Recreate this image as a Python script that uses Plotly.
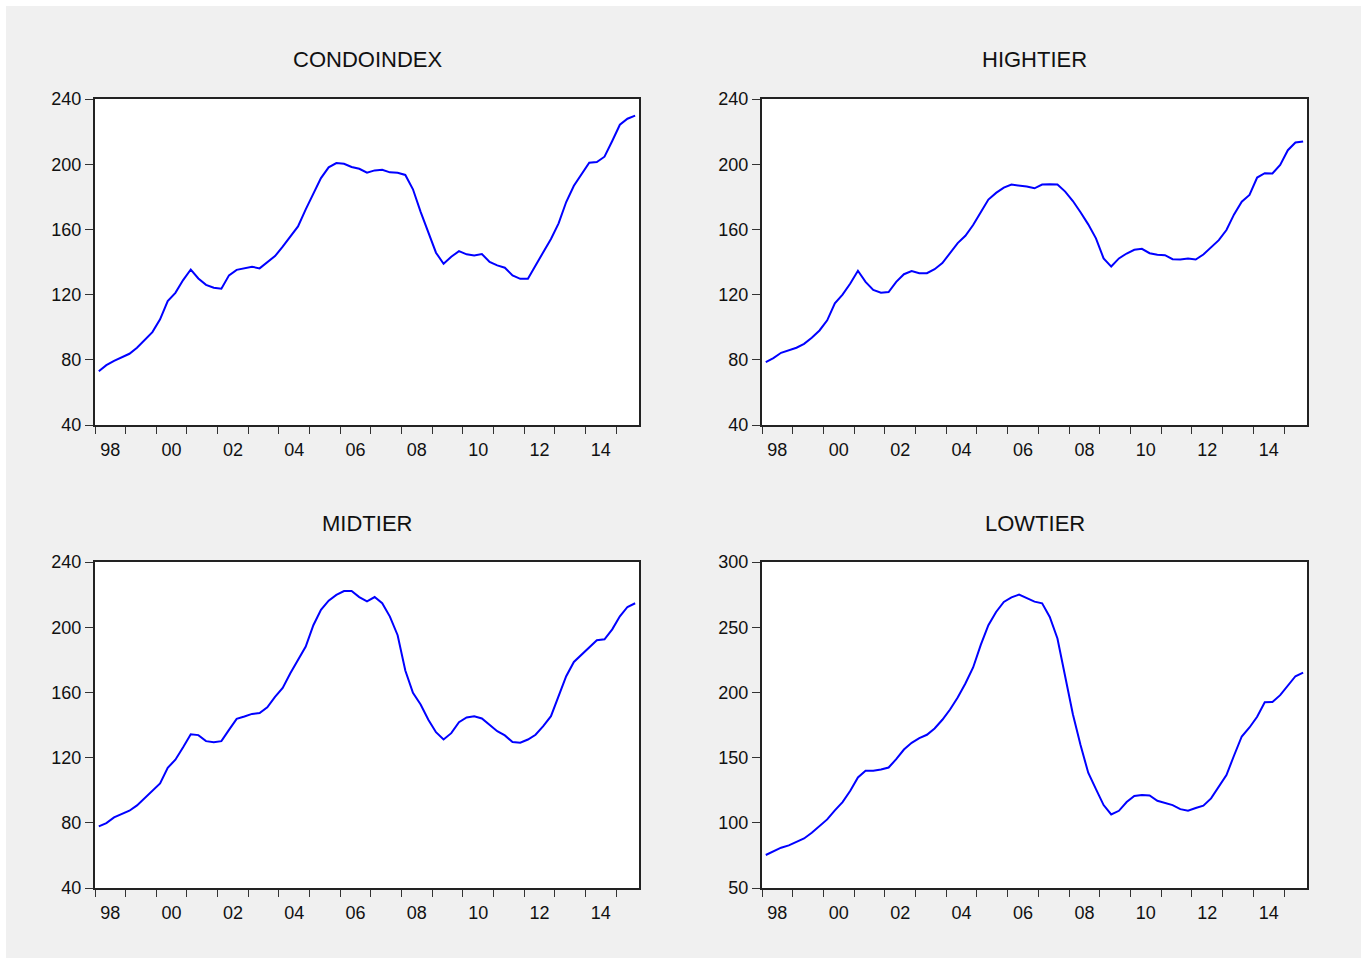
import pandas as pd
import plotly.graph_objects as go

# Quarterly observations, 1998Q1 - 2015Q3
quarters = pd.period_range("1998Q1", "2015Q3", freq="Q")

condoindex = [73.0, 76.7, 79.4, 81.8, 83.7, 87.4, 92.5, 97.0, 104.8, 116.0, 121.1, 128.9,
              135.4, 129.9, 126.0, 124.2, 123.6, 131.8, 135.2, 136.3, 137.1, 136.1, 140.0, 143.6,
              149.4, 155.5, 161.8, 172.3, 182.1, 191.5, 198.1, 200.7, 200.3, 198.3, 197.2, 194.8,
              196.2, 196.6, 195.0, 194.8, 193.4, 184.6, 170.8, 158.6, 145.7, 138.9, 143.2, 146.7,
              144.7, 144.0, 144.9, 140.0, 137.9, 136.5, 131.8, 129.7, 129.7, 137.9, 145.9, 154.1,
              163.7, 176.8, 186.8, 193.8, 200.9, 201.3, 204.6, 214.2, 224.2, 227.9, 229.8]

hightier = [78.6, 81.0, 84.3, 85.7, 87.4, 89.8, 93.5, 98.0, 104.2, 114.7, 120.0, 126.8,
            134.6, 127.8, 122.9, 121.2, 121.6, 127.8, 132.5, 134.4, 133.1, 133.1, 135.6, 139.3,
            145.8, 151.6, 156.1, 162.7, 170.5, 178.3, 182.4, 185.6, 187.5, 186.9, 186.3, 185.2,
            187.5, 187.7, 187.5, 183.2, 177.4, 170.5, 163.1, 154.5, 142.2, 137.2, 142.2, 145.2,
            147.5, 148.1, 145.4, 144.4, 144.2, 141.7, 141.5, 142.2, 141.5, 144.6, 148.7, 153.4,
            159.6, 169.2, 177.0, 181.1, 191.8, 194.5, 194.3, 199.6, 208.6, 213.3, 213.9]

midtier = [77.8, 79.8, 83.3, 85.6, 87.4, 90.7, 95.2, 99.1, 104.2, 113.8, 118.7, 126.3,
           134.3, 133.8, 130.1, 129.5, 130.1, 137.0, 143.8, 145.2, 146.8, 147.3, 150.9, 157.3,
           162.8, 171.8, 180.1, 188.1, 201.2, 210.6, 216.3, 219.8, 222.2, 222.2, 218.5, 215.9,
           218.5, 214.7, 206.5, 195.1, 173.4, 159.7, 152.6, 143.2, 135.6, 131.1, 135.0, 141.7,
           144.6, 145.4, 144.0, 139.9, 136.2, 133.6, 129.5, 129.1, 131.1, 134.0, 139.3, 145.4,
           157.1, 169.9, 178.7, 183.2, 188.1, 192.0, 192.6, 198.7, 206.7, 212.4, 214.7]

lowtier = [75.3, 77.8, 80.9, 82.7, 85.5, 88.0, 92.4, 97.5, 102.6, 109.5, 115.9, 124.6,
           134.8, 139.9, 139.9, 140.9, 142.4, 148.8, 156.2, 161.3, 164.9, 167.5, 172.3, 179.0,
           186.9, 196.1, 206.8, 219.1, 236.4, 251.5, 261.7, 269.4, 272.9, 275.0, 272.2, 269.6,
           268.3, 257.9, 241.3, 212.7, 183.3, 159.6, 138.4, 125.8, 113.6, 106.4, 109.2, 115.9,
           120.5, 121.3, 121.0, 116.9, 115.1, 113.6, 110.5, 109.2, 111.3, 113.1, 118.7, 127.6,
           136.6, 151.6, 166.2, 173.1, 181.3, 192.5, 192.7, 197.9, 205.0, 212.4, 215.2]

titles = ["CONDOINDEX", "HIGHTIER", "MIDTIER", "LOWTIER"]
series = [condoindex, hightier, midtier, lowtier]
y_ticks = [[40, 80, 120, 160, 200, 240],
           [40, 80, 120, 160, 200, 240],
           [40, 80, 120, 160, 200, 240],
           [50, 100, 150, 200, 250, 300]]

# each observation sits at the middle of its quarter
x_mid = [p.start_time + (p.end_time - p.start_time) / 2 for p in quarters]
x_start = quarters[0].start_time
x_end = quarters[-1].end_time

W, H = 1367, 958
FONT = "Liberation Sans, Arial, sans-serif"
BG = "#F0F0F0"

# panel frames in pixels: (left, right), (top, bottom)
frames = [((95, 639), (99, 425)), ((762, 1307), (99, 425)),
          ((95, 639), (562, 888)), ((762, 1307), (562, 888))]

# thin white frame around the grey page
edge = dict(type="rect", xref="paper", yref="paper", fillcolor="white",
            line=dict(width=0), layer="above")
shapes = [dict(edge, x0=0, x1=1, y0=1 - 6 / H, y1=1),
          dict(edge, x0=0, x1=6 / W, y0=0, y1=1),
          dict(edge, x0=1361 / W, x1=1, y0=0, y1=1)]

fig = go.Figure()
layout = dict(
    width=W, height=H, autosize=False,
    margin=dict(l=0, r=0, t=0, b=0, pad=0, autoexpand=False),
    paper_bgcolor=BG,
    plot_bgcolor="white",
    showlegend=False,
    annotations=[],
    shapes=shapes,
)

for k, (title, vals, yt, ((l, r), (t, b))) in enumerate(zip(titles, series, y_ticks, frames)):
    n = k + 1
    xa = "xaxis" if n == 1 else f"xaxis{n}"
    ya = "yaxis" if n == 1 else f"yaxis{n}"
    fig.add_trace(go.Scatter(
        x=x_mid, y=vals, mode="lines",
        line=dict(color="#0000FF", width=2),
        xaxis="x" if n == 1 else f"x{n}",
        yaxis="y" if n == 1 else f"y{n}",
        hoverinfo="skip",
    ))
    layout[xa] = dict(
        type="date", domain=[l / W, r / W], range=[x_start, x_end],
        anchor="y" if n == 1 else f"y{n}",
        tick0="1998-01-01", dtick="M12", ticklabelmode="period", ticklabelstep=2,
        tickformat="%y", ticks="outside", ticklen=7, tickwidth=1, tickcolor="#333333",
        showline=True, linewidth=2, linecolor="#222222", mirror=True,
        showgrid=False, zeroline=False, automargin=False,
        tickfont=dict(family=FONT, size=18, color="#111111"),
    )
    layout[ya] = dict(
        domain=[1 - b / H, 1 - t / H], range=[yt[0], yt[-1]],
        anchor="x" if n == 1 else f"x{n}",
        tickmode="array", tickvals=yt, ticktext=[str(v) for v in yt],
        ticks="outside", ticklen=8, tickwidth=1, tickcolor="#333333",
        showline=True, linewidth=2, linecolor="#222222", mirror=True,
        showgrid=False, zeroline=False, automargin=False,
        tickfont=dict(family=FONT, size=18, color="#111111"),
    )
    layout["annotations"].append(dict(
        text=title, xref="paper", yref="paper",
        x=(l + r) / 2 / W, y=1 - (t - 39) / H, xanchor="center", yanchor="middle",
        showarrow=False, font=dict(family=FONT, size=22, color="#111111"),
    ))

fig.update_layout(**layout)
fig.write_html("out.html")
